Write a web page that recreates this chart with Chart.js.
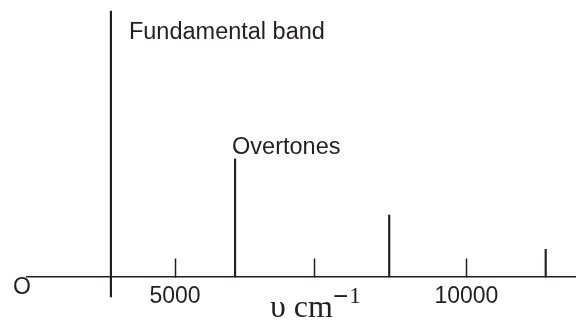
<!DOCTYPE html>
<html>
<head>
<meta charset="utf-8">
<script src="https://cdn.jsdelivr.net/npm/chart.js@4.4.1/dist/chart.umd.min.js"></script>
<style>
  html, body { margin: 0; padding: 0; background: #fff; }
  #wrap { width: 576px; height: 320px; }
</style>
</head>
<body>
<div id="wrap"><canvas id="c" width="576" height="320"></canvas></div>
<script>
// Band positions (cm^-1) and relative intensities
const bandPositions = [3900, 6030, 8675, 11360];
const bandIntensities = [100, 44.4, 23.3, 10.4];

// Wavenumber tick marks and their labels
const tickValues = [5000, 7400, 10000];
const tickLabels = ['5000', '', '10000'];

// Captions
const bandTitles = ['Fundamental band', 'Overtones'];
const originLabel = 'O';
const unitText = 'υ cm';
const unitSign = '−';
const unitPower = '1';

const INK = '#231f20';
const SANS = "'Liberation Sans', Arial, sans-serif";
const SERIF = "'Liberation Serif', 'Times New Roman', serif";

// The fundamental's line carries on below the baseline, crossing it like an axis
const crossDepth = -7.5;

const points = bandPositions.map((x, i) => ({
  x,
  y: i === 0 ? [crossDepth, bandIntensities[i]] : bandIntensities[i]
}));

// Captions, origin mark and the axis unit with its superscript
const annotate = {
  id: 'annotate',
  afterDraw(chart) {
    const { ctx } = chart;
    const xs = chart.scales.x;
    const ys = chart.scales.y;
    const base = ys.getPixelForValue(0);
    ctx.save();
    ctx.fillStyle = INK;

    ctx.font = `23.5px ${SANS}`;
    ctx.textAlign = 'left';
    ctx.textBaseline = 'alphabetic';
    ctx.fillText(bandTitles[0],
      xs.getPixelForValue(bandPositions[0]) + 18,
      ys.getPixelForValue(bandIntensities[0]) + 28);
    ctx.fillText(bandTitles[1],
      xs.getPixelForValue(bandPositions[1]) - 3,
      ys.getPixelForValue(bandIntensities[1]) - 5);

    ctx.font = `23px ${SANS}`;
    ctx.textAlign = 'center';
    ctx.textBaseline = 'middle';
    ctx.fillText(originLabel, xs.left - 5, base + 11);

    // unit label centred under the middle tick
    ctx.textAlign = 'left';
    ctx.textBaseline = 'alphabetic';
    const mainFont = `32px ${SERIF}`;
    const signFont = `bold 27px ${SERIF}`;
    const powFont = `23px ${SERIF}`;
    ctx.font = mainFont;
    const w1 = ctx.measureText(unitText).width;
    ctx.font = signFont;
    const w2 = ctx.measureText(unitSign).width;
    ctx.font = powFont;
    const w3 = ctx.measureText(unitPower).width;
    const start = xs.getPixelForValue(tickValues[1]) - (w1 + w2 + w3) / 2;
    ctx.font = mainFont;
    ctx.fillText(unitText, start, base + 40);
    ctx.font = signFont;
    ctx.fillText(unitSign, start + w1, base + 28);
    ctx.font = powFont;
    ctx.fillText(unitPower, start + w1 + w2 + 1, base + 26);

    ctx.restore();
  }
};

new Chart(document.getElementById('c'), {
  type: 'bar',
  data: {
    datasets: [{
      data: points,
      backgroundColor: INK,
      borderWidth: 0,
      barThickness: 1.5,
      grouped: false,
      clip: false
    }]
  },
  options: {
    responsive: false,
    animation: false,
    layout: { padding: { left: 27, right: 0, top: 11, bottom: 0 } },
    plugins: {
      legend: { display: false },
      tooltip: { enabled: false }
    },
    scales: {
      x: {
        type: 'linear',
        min: 2460,
        max: 11880,
        offset: false,
        border: { display: true, color: INK, width: 1.5 },
        grid: {
          display: true,
          offset: false,
          drawOnChartArea: false,
          drawTicks: true,
          tickLength: -18.5,
          tickWidth: 1.5,
          tickColor: INK
        },
        afterBuildTicks: (scale) => {
          scale.ticks = tickValues.map(v => ({ value: v }));
        },
        ticks: {
          autoSkip: false,
          maxRotation: 0,
          padding: 24.6,
          color: INK,
          font: { family: SANS, size: 23 },
          callback: (value, index) => tickLabels[index]
        },
        afterFit: (scale) => { scale.height = 43; }
      },
      y: { display: false, min: 0, max: 100 }
    }
  },
  plugins: [annotate]
});
</script>
</body>
</html>
